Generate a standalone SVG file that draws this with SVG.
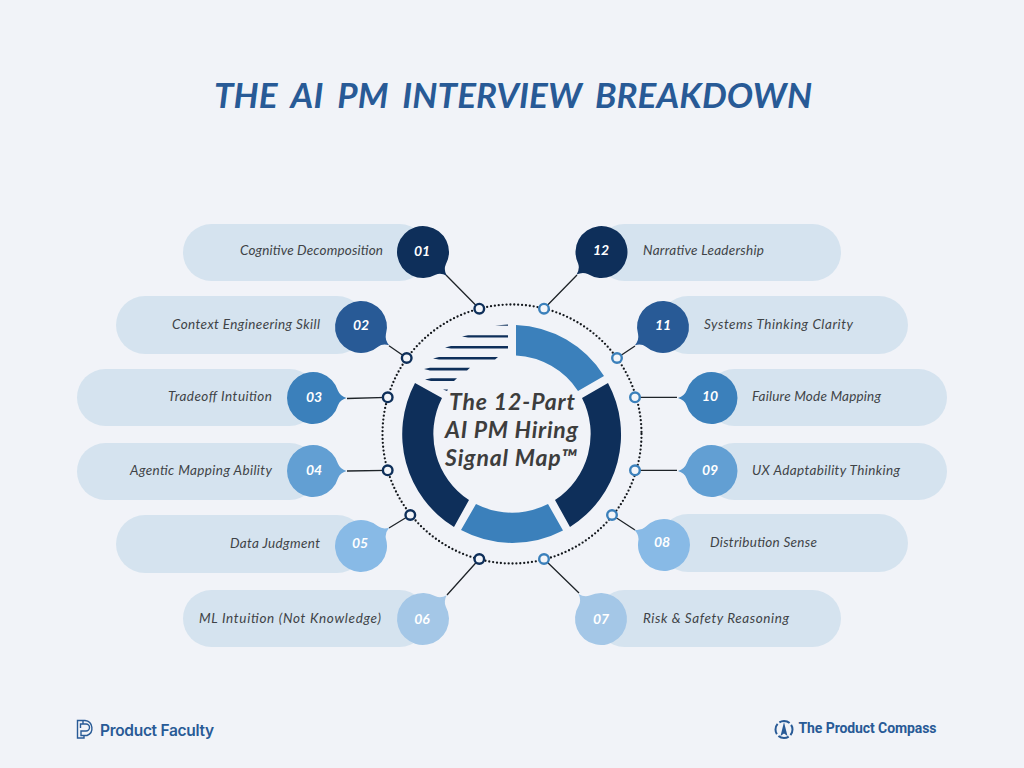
<svg xmlns="http://www.w3.org/2000/svg" width="1024" height="768" viewBox="0 0 1024 768">
<style>
.pill{fill:#d5e3ef}
.lab{font:italic 400 13.5px "Lato","Open Sans",sans-serif;fill:#3f4347}
.num{font:italic 700 14px "Lato","Open Sans",sans-serif;fill:#fff;text-anchor:middle}
.c1{fill:#0e2f5a}.c2{fill:#285a96}.c3{fill:#3b80bb}.c4{fill:#629fd3}.c5{fill:#88bae6}.c6{fill:#a4c7e7}
.wire{stroke:#1e2328;stroke-width:1.3;fill:none}
.pd{fill:#f3f5f9;stroke:#0e2f5a;stroke-width:2.4}
.pb{fill:#f3f5f9;stroke:#3b80bb;stroke-width:2.4}
.ttl{font:italic 700 35px "Lato","Open Sans",sans-serif;fill:#285a96}
.ctr{font:italic 700 23px "Lato","Open Sans",sans-serif;fill:#3d3d3d}
</style>
<defs>
<path id="bubble" d="M25 -7.2 Q27 -2 33.500 0 Q27 2 25 7.200 A26 26 0 1 1 25 -7.200Z"/>
</defs>
<rect width="1024" height="768" fill="#f1f3f8"/>
<text class="ttl" x="214" y="108" textLength="598" lengthAdjust="spacing" word-spacing="6">THE AI PM INTERVIEW BREAKDOWN</text>

<g id="hub">
<path class="c3" d="M516 325 A109 109 0 0 1 604 376 L578 391 A79 79 0 0 0 516 355.5Z"/>
<path class="c1" d="M608 383 A109 109 0 0 1 570 527 L555 500 A79 79 0 0 0 582 398Z"/>
<path class="c3" d="M563 530.5 A109 109 0 0 1 461 530 L476 504 A79 79 0 0 0 548 504Z"/>
<path class="c1" d="M454 527 A109 109 0 0 1 415 383 L442 398 A79 79 0 0 0 469 500Z"/>
<g class="c1">
<path d="M495 325.6 L508 324.6 V325.8Z"/>
<path d="M462 336.5 L468 335.2 H508 V337.4 H468Z"/>
<path d="M445 347.5 L451 346 H508 V348.4 H451Z"/>
<path d="M433 358.5 L439 357 H498 L495 359.6 H439Z"/>
<path d="M424 369 L430 367.8 H470 L467 370.4 H430Z"/>
<path d="M425 379.5 L431 378.2 H457 L454 381 H431Z"/>
<path d="M443 389.5 H448 L447 391Z"/>
</g>
<text class="ctr" x="449" y="410" textLength="126" lengthAdjust="spacing">The 12-Part</text>
<text class="ctr" x="445" y="438" textLength="133" lengthAdjust="spacing">AI PM Hiring</text>
<text class="ctr" x="445" y="466" textLength="132" lengthAdjust="spacing">Signal Map™</text>
</g>

<g id="connectors">
<circle cx="512" cy="434" r="129.5" fill="none" stroke="#14181d" stroke-width="2.3" stroke-linecap="round" stroke-dasharray="0 3.9"/>
<path class="wire" d="M446 275 L479.3 308.7M389 345.7 L406.7 358M347 398.5 L387.7 397.3M347 471 L387.7 470.3M389 528 L410.3 515M447 595 L479.3 559"/>
<path class="wire" d="M577 275 L544 308.7M635 346 L617 358M677 397.3 L635 397.3M677 470.3 L635 470.3M635 530 L612 515M579 593 L544 559"/>
<circle class="pd" cx="479.3" cy="308.7" r="4.8"/><circle class="pd" cx="406.7" cy="358" r="4.8"/><circle class="pd" cx="387.7" cy="397.3" r="4.8"/><circle class="pd" cx="387.7" cy="470.3" r="4.8"/><circle class="pd" cx="410.3" cy="515" r="4.8"/><circle class="pd" cx="479.3" cy="559" r="4.8"/>
<circle class="pb" cx="544" cy="308.7" r="4.8"/><circle class="pb" cx="617" cy="358" r="4.8"/><circle class="pb" cx="635" cy="397.3" r="4.8"/><circle class="pb" cx="635" cy="470.3" r="4.8"/><circle class="pb" cx="612" cy="515" r="4.8"/><circle class="pb" cx="544" cy="559" r="4.8"/>
</g>

<g id="node-01"><rect class="pill" x="183" y="224" width="245" height="57" rx="28.5"/><use href="#bubble" class="c1" transform="translate(423 252) rotate(45)"/><text class="lab" x="240" y="255" textLength="143" lengthAdjust="spacing">Cognitive Decomposition</text><text class="num" x="422" y="256">01</text></g>
<g id="node-02"><rect class="pill" x="116" y="296" width="250" height="58" rx="29"/><use href="#bubble" class="c2" transform="translate(361 327) rotate(33)"/><text class="lab" x="172" y="329" textLength="148" lengthAdjust="spacing">Context Engineering Skill</text><text class="num" x="361" y="330">02</text></g>
<g id="node-03"><rect class="pill" x="77" y="369" width="241" height="57" rx="28.5"/><use href="#bubble" class="c3" transform="translate(313 398) rotate(0)"/><text class="lab" x="168" y="401" textLength="104" lengthAdjust="spacing">Tradeoff Intuition</text><text class="num" x="314" y="402">03</text></g>
<g id="node-04"><rect class="pill" x="77" y="443" width="241" height="57" rx="28.5"/><use href="#bubble" class="c4" transform="translate(313 471) rotate(0)"/><text class="lab" x="130" y="475" textLength="142" lengthAdjust="spacing">Agentic Mapping Ability</text><text class="num" x="314" y="475">04</text></g>
<g id="node-05"><rect class="pill" x="116" y="515" width="250" height="58" rx="29"/><use href="#bubble" class="c5" transform="translate(361 546) rotate(-33)"/><text class="lab" x="230" y="548" textLength="90" lengthAdjust="spacing">Data Judgment</text><text class="num" x="360" y="548">05</text></g>
<g id="node-06"><rect class="pill" x="183" y="590" width="245" height="57" rx="28.5"/><use href="#bubble" class="c6" transform="translate(423 619) rotate(-45)"/><text class="lab" x="199" y="623" textLength="182" lengthAdjust="spacing">ML Intuition (Not Knowledge)</text><text class="num" x="422" y="624">06</text></g>
<g id="node-07"><rect class="pill" x="596" y="590" width="245" height="57" rx="28.5"/><use href="#bubble" class="c6" transform="translate(601 619) rotate(228)"/><text class="lab" x="643" y="623" textLength="146" lengthAdjust="spacing">Risk &amp; Safety Reasoning</text><text class="num" x="601" y="624">07</text></g>
<g id="node-08"><rect class="pill" x="659" y="514" width="249" height="58" rx="29"/><use href="#bubble" class="c5" transform="translate(664 545) rotate(207)"/><text class="lab" x="710" y="547" textLength="107" lengthAdjust="spacing">Distribution Sense</text><text class="num" x="662" y="547">08</text></g>
<g id="node-09"><rect class="pill" x="706" y="443" width="241" height="57" rx="28.5"/><use href="#bubble" class="c4" transform="translate(711.5 471) rotate(180)"/><text class="lab" x="752" y="475" textLength="148" lengthAdjust="spacing">UX Adaptability Thinking</text><text class="num" x="710" y="475">09</text></g>
<g id="node-10"><rect class="pill" x="706" y="369" width="241" height="57" rx="28.5"/><use href="#bubble" class="c3" transform="translate(711.5 398) rotate(180)"/><text class="lab" x="752" y="401" textLength="129" lengthAdjust="spacing">Failure Mode Mapping</text><text class="num" x="710" y="401">10</text></g>
<g id="node-11"><rect class="pill" x="659" y="296" width="249" height="58" rx="29"/><use href="#bubble" class="c2" transform="translate(663 327) rotate(147)"/><text class="lab" x="704" y="329" textLength="149" lengthAdjust="spacing">Systems Thinking Clarity</text><text class="num" x="663" y="330">11</text></g>
<g id="node-12"><rect class="pill" x="596" y="224" width="245" height="57" rx="28.5"/><use href="#bubble" class="c1" transform="translate(601.500 252) rotate(138)"/><text class="lab" x="643" y="255" textLength="121" lengthAdjust="spacing">Narrative Leadership</text><text class="num" x="601" y="255">12</text></g>

<g id="logo-left">
<path d="M77.5 720.500 H85 A7.800 7.800 0 0 1 87 735.500 H84 V738 H77.500Z M83 720.500 V724 H86 A3.500 3.500 0 0 1 86 731 H81 V735.500 H84 M83 724 H80.500 V728" fill="none" stroke="#285a96" stroke-width="1.400"/>
<text x="100" y="736" font-family="Inter,Roboto,sans-serif" font-weight="600" font-size="15.500" fill="#285a96" textLength="114" lengthAdjust="spacing">Product Faculty</text>
</g>
<g id="logo-right">
<circle cx="784" cy="729.500" r="8.500" fill="none" stroke="#285a96" stroke-width="2" stroke-dasharray="11 2.300" stroke-dashoffset="5"/>
<path d="M784 722 L787.500 736 L784 733.500 L780.500 736Z" fill="#285a96"/>
<text x="798.500" y="733" font-family="Roboto,Inter,sans-serif" font-weight="700" font-size="14" fill="#285a96" textLength="138" lengthAdjust="spacing">The Product Compass</text>
</g>
</svg>
